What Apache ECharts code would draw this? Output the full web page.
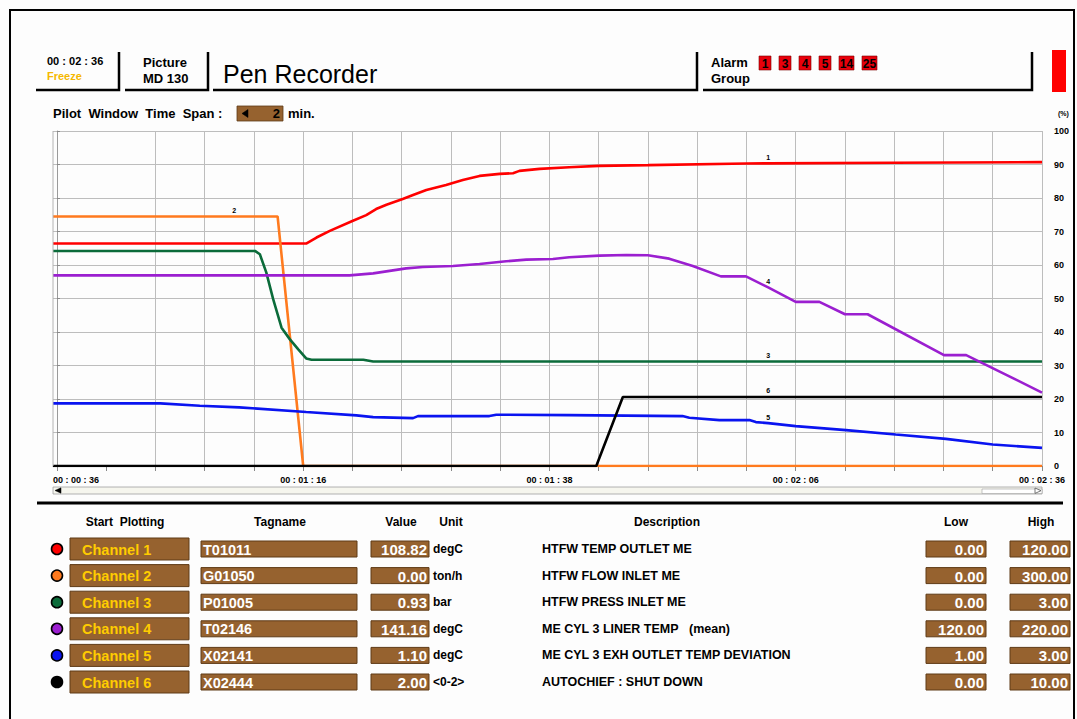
<!DOCTYPE html>
<html><head><meta charset="utf-8">
<script src="https://cdn.jsdelivr.net/npm/echarts@6/dist/echarts.min.js"></script>
<style>html,body{margin:0;padding:0;background:#fdfdfd;}#c{width:1077px;height:719px;}</style>
</head><body><div id="c"></div>
<script>
// ---- data ----
const timeLabels = ['00 : 00 : 36','','','','','00 : 01 : 16','','','','','00 : 01 : 38','','','','','00 : 02 : 06','','','','','00 : 02 : 36'];
const xStart = -0.08;
const ch1 = [[-0.08,66.4],[5.06,66.4],[5.27,68.2],[5.54,70.2],[6.01,73.2],[6.28,74.9],[6.48,76.7],[6.69,78.0],[7.02,79.7],[7.23,80.9],[7.5,82.4],[7.9,83.9],[8.24,85.4],[8.58,86.6],[8.99,87.2],[9.26,87.4],[9.39,88.1],[9.8,88.7],[10.4,89.2],[11.0,89.6],[12.0,89.8],[14.0,90.3],[14.44,90.33],[17.0,90.5],[20,90.7]];
const ch2 = [[-0.08,74.5],[3.6,74.5],[4.48,74.5],[5.0,0],[20,0]];
const ch3 = [[-0.08,64.2],[4.02,64.2],[4.12,63.2],[4.25,57.8],[4.39,49.8],[4.56,41.3],[4.73,37.8],[4.9,34.8],[5.06,32.1],[5.17,31.7],[6.22,31.7],[6.42,31.2],[14.44,31.2],[20,31.2]];
const ch4 = [[-0.08,56.9],[5.94,56.9],[6.42,57.5],[7.09,59.0],[7.43,59.4],[8.04,59.7],[8.58,60.3],[9.12,61.1],[9.53,61.6],[10.07,61.8],[10.4,62.3],[11.01,62.8],[11.56,63.0],[12.0,62.9],[12.43,61.9],[12.91,59.7],[13.48,56.6],[13.99,56.6],[14.44,53.3],[15.0,49.0],[15.48,49.0],[16.0,45.3],[16.46,45.3],[18.01,33.1],[18.46,33.1],[19.43,26.1],[20,21.9]];
const ch5 = [[-0.08,18.7],[2.1,18.7],[2.9,18.0],[3.7,17.5],[5.06,16.1],[6.08,15.1],[6.42,14.6],[7.23,14.3],[7.33,14.9],[8.78,14.9],[8.92,15.3],[10.4,15.2],[12.7,14.9],[12.84,14.4],[13.45,13.7],[14.06,13.7],[14.19,13.1],[14.44,12.8],[15.0,11.9],[16.02,10.7],[17.03,9.4],[18.05,8.1],[19.0,6.4],[20,5.4]];
const ch6 = [[-0.08,0],[10.95,0],[11.49,20.6],[14.44,20.6],[20,20.6]];
const penTagX = [14.44, 3.6, 14.44, 14.44, 14.44, 14.44];
const penColors = ['#ff0000','#ff7a1e','#0b6b3a','#9b1fd0','#0a14f0','#000000'];

const channelNames = ['Channel 1','Channel 2','Channel 3','Channel 4','Channel 5','Channel 6'];
const tagnames = ['T01011','G01050','P01005','T02146','X02141','X02444'];
const values = ['108.82','0.00','0.93','141.16','1.10','2.00'];
const units = ['degC','ton/h','bar','degC','degC','<0-2>'];
const descriptions = ['HTFW TEMP OUTLET ME','HTFW FLOW INLET ME','HTFW PRESS INLET ME','ME CYL 3 LINER TEMP\u00a0\u00a0\u00a0(mean)','ME CYL 3 EXH OUTLET TEMP DEVIATION','AUTOCHIEF : SHUT DOWN'];
const lows = ['0.00','0.00','0.00','120.00','1.00','0.00'];
const highs = ['120.00','300.00','3.00','220.00','3.00','10.00'];
const alarmGroups = ['1','3','4','5','14','25'];
const clockText = '00 : 02 : 36';
const pictureId = 'MD 130';
const timeSpan = '2';

// ---- build ----
const FF = '"Liberation Sans", Arial, Helvetica, sans-serif';
const BROWN = '#96622f', BROWN_EDGE = '#5e3a16', GOLD = '#ffcc00';
const G = [];
function txt(x, y, s, size, opt) {
  opt = opt || {};
  G.push({type:'text', silent:true, z:10, x:x, y:y, style:{
    text:s, font:(opt.weight||'bold')+' '+size+'px '+FF, fill:opt.fill||'#000',
    align:opt.align||'left', textAlign:opt.align||'left', verticalAlign:'middle', textVerticalAlign:'middle'}});
}
function rect(x, y, w, h, fill, stroke, lw) {
  G.push({type:'rect', silent:true, z:5, shape:{x:x,y:y,width:w,height:h}, style:{fill:fill, stroke:stroke||null, lineWidth:lw||1}});
}
function poly(pts, stroke, lw, fill) {
  G.push({type:fill?'polygon':'polyline', silent:true, z:6, shape:{points:pts}, style:{stroke:stroke, lineWidth:lw, fill:fill||null}});
}
// outer frame
rect(10, 10, 1064, 730, null, '#000', 2);
// header boxes
poly([[36,90],[119,90],[119,52]], '#000', 2.5);
poly([[125,90],[208,90],[208,52]], '#000', 2.5);
poly([[213,90],[697,90],[697,52]], '#000', 2.5);
poly([[703,90],[1032,90],[1032,52]], '#000', 2.5);
txt(47, 61, clockText, 11);
txt(47, 76, 'Freeze', 11, {fill:'#f5b800'});
txt(143, 62, 'Picture', 13);
txt(143, 78, pictureId, 13);
txt(223, 74, 'Pen Recorder', 25, {weight:'normal'});
txt(711, 62, 'Alarm', 13);
txt(711, 78, 'Group', 13);
let ax = 759;
alarmGroups.forEach(function(a){
  const w = a.length > 1 ? 15 : 12;
  rect(ax, 56, w, 14, '#e8000b', '#7a0000', 0.6);
  txt(ax + w/2, 63.5, a, 12, {align:'center'});
  ax += w + 8;
});
rect(1052, 50, 14, 42, '#ff0000');
// pilot window
txt(53, 113, 'Pilot\u00a0\u00a0Window\u00a0\u00a0Time\u00a0\u00a0Span :', 13);
rect(237, 106, 46, 15, BROWN, BROWN_EDGE, 0.8);
poly([[242,113.5],[248,109.5],[248,117.5]], '#000', 0.5, '#000');
txt(280, 113.5, timeSpan, 13, {align:'right'});
txt(288, 113, 'min.', 13);
txt(1058, 113, '(%)', 7);
// left plot border
poly([[53,131],[53,466]], '#b4b4b4', 1);
// scrollbar
rect(53, 487, 989, 7, '#f6f6ee', '#a0a0a0', 0.8);
poly([[55,490.5],[61,487.8],[61,493.2]], '#000', 0.5, '#000');
rect(982, 489, 60, 4.5, '#ffffff', '#a0a0a0', 0.6);
poly([[1035,488],[1041,490.7],[1035,493.4]], '#555', 0.8, '#fff');
// separator
poly([[37,503],[1063,503]], '#000', 3);
// table header
txt(125, 522, 'Start\u00a0\u00a0Plotting', 12, {align:'center'});
txt(280, 522, 'Tagname', 12, {align:'center'});
txt(401, 522, 'Value', 12, {align:'center'});
txt(451, 522, 'Unit', 12, {align:'center'});
txt(667, 522, 'Description', 12, {align:'center'});
txt(956, 522, 'Low', 12, {align:'center'});
txt(1041, 522, 'High', 12, {align:'center'});
channelNames.forEach(function(name, i){
  const y = 549 + i*26.6;
  G.push({type:'circle', silent:true, z:6, shape:{cx:57, cy:y, r:5.5}, style:{fill:penColors[i], stroke:'#000', lineWidth:1.6}});
  rect(70, y-11, 119, 22, BROWN, BROWN_EDGE, 1);
  txt(82, y+0.5, name, 14.5, {fill:GOLD});
  rect(201, y-8, 156, 16, BROWN, BROWN_EDGE, 1);
  txt(203, y+0.5, tagnames[i], 14.5, {fill:'#fff'});
  rect(371, y-8, 58, 16, BROWN, BROWN_EDGE, 1);
  txt(427, y+0.5, values[i], 15, {fill:'#fff', align:'right'});
  txt(433, y, units[i], 12);
  txt(542, y, descriptions[i], 12.5);
  rect(926, y-8, 60, 16, BROWN, BROWN_EDGE, 1);
  txt(984, y+0.5, lows[i], 15, {fill:'#fff', align:'right'});
  rect(1010, y-8, 60, 16, BROWN, BROWN_EDGE, 1);
  txt(1068, y+0.5, highs[i], 15, {fill:'#fff', align:'right'});
});

const pens = [ch1, ch2, ch3, ch4, ch5, ch6];
const series = pens.map(function(pts, i){
  return {
    type:'line', name:channelNames[i], silent:true, animation:false,
    showSymbol:true, showAllSymbol:true, symbol:'circle', symbolSize:0,
    lineStyle:{color:penColors[i], width:2.6}, itemStyle:{color:penColors[i]},
    emphasis:{disabled:true},
    label:{show:false},
    data: pts.map(function(p){
      const d = {value:p};
      if (p[0] === penTagX[i]) d.label = {show:true, formatter:String(i+1), position:'top', distance:2.5, color:'#000', fontSize:7, fontWeight:'bold', fontFamily:FF};
      return d;
    })
  };
});
const splitColors = ['#b4b4b4','rgba(0,0,0,0)'];
for (let k = 0; k < 20; k++) splitColors.push('#bdbdbd');
const tickVals = []; for (let k = 0; k <= 20; k++) tickVals.push(k);

const chart = echarts.init(document.getElementById('c'), null, {renderer:'svg'});
chart.setOption({
  backgroundColor:'#fdfdfd',
  animation:false,
  grid:{left:53, right:35, top:131, bottom:253, containLabel:false},
  xAxis:{type:'value', min:xStart, max:20, splitNumber:20,
    axisLine:{show:true, onZero:false, lineStyle:{color:'#9a9a9a', width:1}},
    axisTick:{show:true, length:5, customValues:tickVals, lineStyle:{color:'#888'}},
    axisLabel:{show:true, margin:9, color:'#000', fontSize:9, fontWeight:'bold', fontFamily:FF,
      showMinLabel:true, showMaxLabel:true, alignMinLabel:'left',
      formatter:function(v){ if (v < 0) return timeLabels[0]; if (Math.abs(v) < 1e-9) return ''; const k = Math.round(v); return Math.abs(v-k) < 1e-6 ? (timeLabels[k]||'') : ''; }},
    splitLine:{show:true, lineStyle:{color:splitColors, width:1}}},
  yAxis:{type:'value', position:'right', min:0, max:100, interval:10,
    axisLine:{show:true, lineStyle:{color:'#9a9a9a', width:1}},
    axisTick:{show:true, length:3, lineStyle:{color:'#888'}},
    axisLabel:{color:'#000', fontSize:9, fontWeight:'bold', margin:12, fontFamily:FF},
    splitLine:{show:true, lineStyle:{color:'#bdbdbd', width:1}}},
  series:series,
  graphic:{elements:G}
});
</script></body></html>
